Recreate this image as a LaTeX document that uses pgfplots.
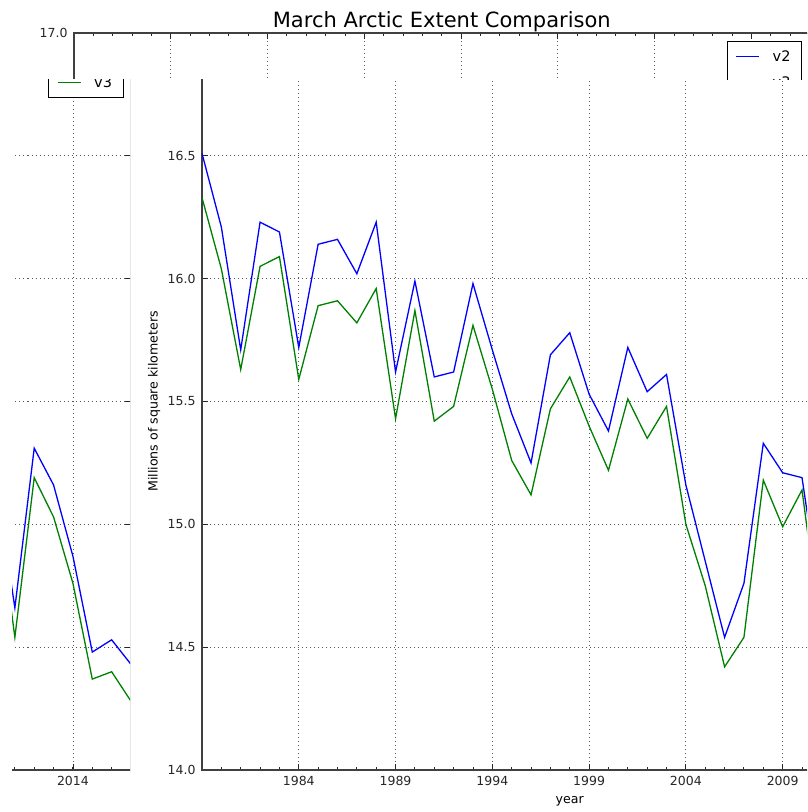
\documentclass[border=0pt]{standalone}
\usepackage{fontspec}
\setmainfont{DejaVu Sans}
\usepackage{pgfplots}
\pgfplotsset{compat=1.18}
\usepackage{pgfplotstable}

\pgfplotstableread{
year v2 v3
1979 16.51 16.33
1980 16.21 16.04
1981 15.71 15.63
1982 16.23 16.05
1983 16.19 16.09
1984 15.72 15.59
1985 16.14 15.89
1986 16.16 15.91
1987 16.02 15.82
1988 16.23 15.96
1989 15.62 15.43
1990 15.99 15.87
1991 15.60 15.42
1992 15.62 15.48
1993 15.98 15.81
1994 15.71 15.55
1995 15.45 15.26
1996 15.25 15.12
1997 15.69 15.47
1998 15.78 15.60
1999 15.53 15.40
2000 15.38 15.22
2001 15.72 15.51
2002 15.54 15.35
2003 15.61 15.48
2004 15.16 15.00
2005 14.85 14.75
2006 14.54 14.42
2007 14.76 14.54
2008 15.33 15.18
2009 15.21 14.99
2010 15.19 15.14
2011 14.66 14.54
2012 15.31 15.19
2013 15.16 15.03
2014 14.87 14.76
2015 14.48 14.37
2016 14.53 14.40
2017 14.43 14.28
}\datatable

\definecolor{mplblue}{rgb}{0,0,1}
\definecolor{mplgreen}{rgb}{0,0.5,0}

\pgfplotsset{
  arctic/.style={
    scale only axis,
    width=735.5pt, height=737pt,
    anchor=south west,
    xmin=1979, xmax=2017, ymin=14, ymax=17,
    xtick={1984,1989,...,2014},
    minor xtick={1979,...,2017},
    ytick={14,14.5,15,15.5,16,16.5,17},
    tick align=inside,
    major tick length=6pt,
    minor tick length=3pt,
    every tick/.style={black!85, line width=0.8pt},
    axis line style={black!75, line width=1.2pt},
    grid=major,
    major grid style={black!65, line width=0.8pt, dash pattern=on 1pt off 3pt},
    tick label style={font=\fontsize{12.5}{15}\selectfont, text=black!85},
    /pgf/number format/assume math mode=true,
    xticklabel style={/pgf/number format/1000 sep={}, yshift=-3pt},
    yticklabel style={/pgf/number format/.cd, fixed, fixed zerofill, precision=1, /tikz/.cd, xshift=-3pt},
    title={March Arctic Extent Comparison},
    every axis title shift=0pt,
    title style={at={(axis description cs:0.5,1.00814)}, anchor=base, font=\fontsize{21}{25}\selectfont, inner sep=0pt},
    xlabel={year},
    xlabel style={at={(axis description cs:0.5,-0.0461)}, anchor=base, font=\fontsize{12.6}{15}\selectfont, inner sep=0pt},
    ylabel={Millions of square kilometers},
    ylabel style={at={(axis description cs:-0.0605,0.5)}, anchor=base, rotate=0, font=\fontsize{12.6}{15}\selectfont, inner sep=0pt},
    legend style={at={(0.9898,0.9891)}, anchor=north east, draw=black, line width=1pt, fill=white,
      inner xsep=8pt, inner ysep=6pt, row sep=7.5pt,
      font=\fontsize{14.5}{17}\selectfont,
      nodes={inner sep=3pt},
      /tikz/every odd column/.append style={column sep=10pt}},
    legend cell align=left,
    legend image code/.code={\draw[#1, line width=1.3pt] (0pt,0pt) -- (23pt,0pt);},
  },
  v2style/.style={mplblue, line width=1.3pt},
  v3style/.style={mplgreen, line width=1.3pt},
}

\newcommand{\arcticaxis}[1]{%
\begin{axis}[arctic, at={(#1,42pt)}]
\addplot[v2style] table[x=year,y=v2] {\datatable};
\addplot[v3style] table[x=year,y=v3] {\datatable};
\legend{v2,v3}
\end{axis}}

\begin{document}
\begin{tikzpicture}
\useasboundingbox (0pt,0pt) rectangle (807pt,812pt);
% main piece
\begin{scope}
\clip (131pt,0pt) rectangle (807pt,732pt);
\arcticaxis{202pt}
\end{scope}
% top strip
\begin{scope}
\clip (0pt,732pt) rectangle (807pt,812pt);
\arcticaxis{74pt}
\end{scope}
% left piece
\begin{scope}
\clip (12pt,0pt) rectangle (130pt,732pt);
\arcticaxis{-604.5pt}
\end{scope}
\end{tikzpicture}
\end{document}
